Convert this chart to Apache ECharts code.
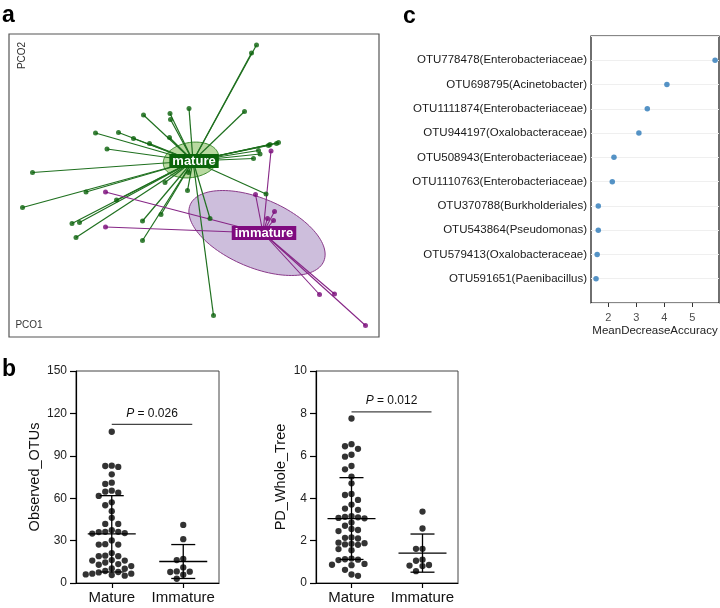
<!DOCTYPE html>
<html><head><meta charset="utf-8">
<script src="https://cdn.jsdelivr.net/npm/echarts@6/dist/echarts.min.js"></script>
<style>html,body{margin:0;padding:0;background:#fff}#c{width:720px;height:608px}</style>
</head><body><div id="c"></div>
<script>
// ---------- Panel a : PCoA (PCO1, PCO2) ----------
const matureCentroid = [-0.032, -0.004];
const immatureCentroid = [0.108, -0.148];
const maturePCO1 = [-0.227,-0.181,-0.151,-0.119,-0.204,-0.131,-0.078,-0.077,-0.079,-0.040,0.095,0.085,0.071,0.139,0.135,0.122,0.119,0.099,0.102,0.089,-0.353,-0.373,-0.246,-0.185,-0.088,-0.043,-0.274,-0.259,-0.266,-0.133,-0.096,-0.133,0.114,0.002,0.009,-0.041];
const maturePCO2 = [0.052,0.053,0.041,0.031,0.020,0.088,0.091,0.079,0.043,0.101,0.228,0.212,0.095,0.033,0.031,0.029,0.027,0.017,0.010,0.001,-0.027,-0.097,-0.066,-0.082,-0.047,-0.063,-0.129,-0.127,-0.157,-0.124,-0.111,-0.163,-0.070,-0.119,-0.313,-0.027];
const immaturePCO1 = [0.124,-0.207,-0.207,0.093,0.131,0.117,0.129,0.221,0.251,0.313];
const immaturePCO2 = [0.016,-0.066,-0.136,-0.071,-0.105,-0.119,-0.123,-0.271,-0.270,-0.333];
// ellipse: [centre PCO1, centre PCO2, semi-major, semi-minor, angle deg]
const matureEllipse = [-0.036, -0.002, 0.056, 0.035, 10];
const immatureEllipse = [0.096, -0.148, 0.145, 0.069, -22.9];
const groupNames = ['mature', 'immature'];

// ---------- Panel b ----------
const groups = ['Mature', 'Immature'];
const observedMature = [107.0,83.0,82.8,82.1,76.9,71.0,70.1,65.3,64.6,63.9,61.6,57.1,55.0,50.8,46.1,41.8,41.8,37.4,36.0,35.3,35.0,36.2,36.2,30.1,27.2,27.5,27.2,21.2,19.0,19.0,19.3,14.5,13.4,15.9,16.2,15.9,12.9,12.0,10.1,10.3,8.5,7.8,6.6,6.1,5.6,5.2,6.6,7.5];
const observedImmature = [41.1,31.0,16.2,17.1,11.0,8.2,8.0,7.8,5.9,3.0];
const observedMean = [34.8, 15.2];
const observedSD = [27.0, 12.0];
const observedTicks = [0, 30, 60, 90, 120, 150];
const pdMature = [7.76,6.55,6.45,6.33,6.05,5.96,5.52,5.36,5.02,4.70,4.20,4.15,3.92,3.70,3.51,3.45,3.15,3.10,3.07,3.05,3.12,2.85,2.70,2.50,2.45,2.55,2.13,2.15,2.10,1.90,1.85,1.82,1.88,1.80,1.60,1.55,1.10,1.12,1.08,1.15,0.86,0.90,0.84,0.62,0.40,0.34];
const pdImmature = [3.37,2.57,1.61,1.61,1.10,1.05,0.85,0.82,0.80,0.56];
const pdMean = [3.04, 1.41];
const pdSD = [1.93, 0.90];
const pdTicks = [0, 2, 4, 6, 8, 10];
const pValues = ['0.026', '0.012'];
const bracketLevels = [112.2, 8.07];

// ---------- Panel c ----------
const otuNames = ['OTU778478(Enterobacteriaceae)','OTU698795(Acinetobacter)','OTU1111874(Enterobacteriaceae)','OTU944197(Oxalobacteraceae)','OTU508943(Enterobacteriaceae)','OTU1110763(Enterobacteriaceae)','OTU370788(Burkholderiales)','OTU543864(Pseudomonas)','OTU579413(Oxalobacteraceae)','OTU591651(Paenibacillus)'];
const meanDecreaseAccuracy = [5.81, 4.09, 3.39, 3.09, 2.20, 2.14, 1.64, 1.64, 1.60, 1.56];
const accTicks = [2, 3, 4, 5];

// ---------- layout ----------
const FONT = 'Liberation Sans, Arial, sans-serif';
const gA = {left: 9, top: 34, width: 370, height: 303};
const gC = {left: 591, top: 36, width: 128, height: 267};
const gB1 = {left: 76, top: 371, width: 143, height: 212};
const gB2 = {left: 316, top: 371, width: 142, height: 212};
const GREEN = '#0a620a', GREEN_LINE = '#1f701f', PURPLE = '#780878', PURPLE_LINE = '#862686';
const DOT = 6.3;

function swarm(values, gx, pxPerX, pxPerY) {
  const order = values.map((v, i) => i).sort((a, b) => values[b] - values[a]);
  const cols = {};
  const out = new Array(values.length);
  order.forEach(i => {
    const ypx = values[i] * pxPerY;
    for (let k = 0; k < 60; k++) {
      const c = k === 0 ? 0 : (k % 2 ? -Math.ceil(k / 2) : k / 2);
      const list = cols[c] || (cols[c] = []);
      if (list.every(y => Math.abs(y - ypx) >= DOT)) {
        list.push(ypx);
        out[i] = [gx + c * 6.5 / pxPerX, values[i]];
        break;
      }
    }
  });
  return out;
}

function ellipseItem(fill, stroke) {
  return function (params, api) {
    const cx = api.value(0), cy = api.value(1), a = api.value(2), b = api.value(3);
    const ang = api.value(4) * Math.PI / 180;
    const pts = [];
    for (let t = 0; t < 120; t++) {
      const th = t / 120 * Math.PI * 2;
      const lx = a * Math.cos(th), ly = b * Math.sin(th);
      pts.push(api.coord([cx + lx * Math.cos(ang) - ly * Math.sin(ang), cy + lx * Math.sin(ang) + ly * Math.cos(ang)]));
    }
    return {type: 'polygon', shape: {points: pts}, style: {fill: fill, stroke: stroke, lineWidth: 1}};
  };
}

function centroidLabel(bg) {
  return function (params, api) {
    const p = api.coord([api.value(0), api.value(1)]);
    return {type: 'text', x: p[0] + 1, y: p[1], z2: 10, style: {text: groupNames[api.value(2)], fill: '#fff', backgroundColor: bg, padding: [1, 3, 0, 3], font: 'bold 13px ' + FONT, align: 'center', verticalAlign: 'middle'}};
  };
}

function summaryItem(params, api) {
  const x = api.value(0), m = api.value(1), s = api.value(2);
  const pm = api.coord([x, m]), pt = api.coord([x, m + s]), pb = api.coord([x, m - s]);
  const st = {stroke: '#000', lineWidth: 1.3};
  return {type: 'group', children: [
    {type: 'line', shape: {x1: pm[0] - 24, y1: pm[1], x2: pm[0] + 24, y2: pm[1]}, style: st},
    {type: 'line', shape: {x1: pt[0] - 12, y1: pt[1], x2: pt[0] + 12, y2: pt[1]}, style: st},
    {type: 'line', shape: {x1: pb[0] - 12, y1: pb[1], x2: pb[0] + 12, y2: pb[1]}, style: st},
    {type: 'line', shape: {x1: pt[0], y1: pt[1], x2: pb[0], y2: pb[1]}, style: st}
  ]};
}

function bracketItem(params, api) {
  const p1 = api.coord([api.value(0), api.value(2)]);
  const p2 = api.coord([api.value(1), api.value(2)]);
  const x2 = p2[0] + 9;
  return {type: 'group', children: [
    {type: 'line', shape: {x1: p1[0], y1: p1[1], x2: x2, y2: p1[1]}, style: {stroke: '#444', lineWidth: 1.2}},
    {type: 'text', x: (p1[0] + x2) / 2, y: p1[1] - 11, style: {
      text: '{i|P} = ' + pValues[api.value(3)], align: 'center', verticalAlign: 'middle',
      font: '12px ' + FONT, fill: '#111',
      rich: {i: {fontStyle: 'italic', fontSize: 12, fontFamily: FONT, fill: '#111'}}
    }}
  ]};
}

const pxX1 = gB1.width / 2, pxY1 = gB1.height / 150;
const pxX2 = gB2.width / 2, pxY2 = gB2.height / 10;

const yAxisB = (grid, max, interval, name, gap) => ({
  gridIndex: grid, type: 'value', min: 0, max: max, interval: interval,
  axisLine: {show: true, lineStyle: {color: '#000', width: 1.2}},
  axisTick: {show: true, length: 6, lineStyle: {color: '#000', width: 1.2}},
  axisLabel: {fontSize: 12, color: '#222', margin: 9, fontFamily: FONT},
  splitLine: {show: false},
  name: name, nameLocation: 'middle', nameGap: gap,
  nameTextStyle: {fontSize: 14.5, color: '#111', fontFamily: FONT}
});
const xAxisB = (grid) => ({
  gridIndex: grid, type: 'value', min: 0.5, max: 2.5,
  axisLine: {show: true, onZero: false, lineStyle: {color: '#000', width: 1.2}},
  axisTick: {show: true, length: 5, customValues: [1, 2], lineStyle: {color: '#000', width: 1.2}},
  axisLabel: {customValues: [1, 2], formatter: v => groups[Math.round(v) - 1] || '', fontSize: 15, color: '#111', margin: 7, fontFamily: FONT},
  splitLine: {show: false}
});

const chart = echarts.init(document.getElementById('c'), null, {renderer: 'canvas'});
chart.setOption({
  animation: false,
  backgroundColor: '#fff',
  textStyle: {fontFamily: FONT},
  grid: [
    Object.assign({show: true, borderColor: '#555', borderWidth: 1.2, backgroundColor: '#fff'}, gA),
    Object.assign({show: true, borderColor: '#111', borderWidth: 1.2, backgroundColor: '#fff'}, gC),
    Object.assign({show: true, borderColor: '#444', borderWidth: 1}, gB1),
    Object.assign({show: true, borderColor: '#444', borderWidth: 1}, gB2)
  ],
  xAxis: [
    {gridIndex: 0, type: 'value', min: -0.40, max: 0.34, show: false},
    {gridIndex: 1, type: 'value', min: 1.38, max: 5.95,
      axisLine: {show: false}, splitLine: {show: false},
      axisTick: {show: true, customValues: accTicks, length: 4, lineStyle: {color: '#333'}},
      axisLabel: {customValues: accTicks, fontSize: 11, color: '#4d4d4d', margin: 9, fontFamily: FONT},
      name: 'MeanDecreaseAccuracy', nameLocation: 'middle', nameGap: 22,
      nameTextStyle: {fontSize: 11.5, color: '#222', fontFamily: FONT}},
    xAxisB(2), xAxisB(3)
  ],
  yAxis: [
    {gridIndex: 0, type: 'value', min: -0.356, max: 0.25, show: false},
    {gridIndex: 1, type: 'category', data: [''].concat(otuNames, ['']), boundaryGap: false, inverse: true,
      axisLine: {show: false}, axisTick: {show: false},
      axisLabel: {fontSize: 11.5, color: '#1a1a1a', margin: 4, fontFamily: FONT, interval: 0},
      splitLine: {show: true, lineStyle: {color: '#efefef', width: 1}}},
    yAxisB(2, 150, 30, 'Observed_OTUs', 34),
    yAxisB(3, 10, 2, 'PD_Whole_Tree', 28)
  ],
  graphic: [
    {type: 'text', x: 2, y: 15.5, style: {text: 'a', font: 'bold 23px ' + FONT, fill: '#000', verticalAlign: 'middle'}},
    {type: 'text', x: 2, y: 369.5, style: {text: 'b', font: 'bold 23px ' + FONT, fill: '#000', verticalAlign: 'middle'}},
    {type: 'text', x: 403, y: 16.5, style: {text: 'c', font: 'bold 23px ' + FONT, fill: '#000', verticalAlign: 'middle'}},
    {type: 'text', x: 22.7, y: 55.5, rotation: Math.PI / 2, z: 100, style: {text: 'PCO2', font: '10px ' + FONT, fill: '#333', align: 'center', verticalAlign: 'middle'}},
    {type: 'text', x: 29, y: 325, z: 100, style: {text: 'PCO1', font: '10px ' + FONT, fill: '#333', align: 'center', verticalAlign: 'middle'}}
  ],
  series: [
    // panel a
    {type: 'custom', xAxisIndex: 0, yAxisIndex: 0, renderItem: ellipseItem('rgba(113,179,65,0.5)', '#3a8a2a'), data: [matureEllipse], z: 1},
    {type: 'custom', xAxisIndex: 0, yAxisIndex: 0, renderItem: ellipseItem('rgba(155,125,185,0.5)', '#8a3a8a'), data: [immatureEllipse], z: 1},
    {type: 'lines', coordinateSystem: 'cartesian2d', xAxisIndex: 0, yAxisIndex: 0, z: 2,
      lineStyle: {color: GREEN_LINE, width: 1.2, opacity: 1},
      data: maturePCO1.map((x, i) => ({coords: [matureCentroid, [x, maturePCO2[i]]]}))},
    {type: 'lines', coordinateSystem: 'cartesian2d', xAxisIndex: 0, yAxisIndex: 0, z: 2,
      lineStyle: {color: PURPLE_LINE, width: 1.1, opacity: 1},
      data: immaturePCO1.map((x, i) => ({coords: [immatureCentroid, [x, immaturePCO2[i]]]}))},
    {type: 'scatter', xAxisIndex: 0, yAxisIndex: 0, symbolSize: 5, z: 3, itemStyle: {color: GREEN},
      data: maturePCO1.map((x, i) => [x, maturePCO2[i]])},
    {type: 'scatter', xAxisIndex: 0, yAxisIndex: 0, symbolSize: 5, z: 3, itemStyle: {color: PURPLE},
      data: immaturePCO1.map((x, i) => [x, immaturePCO2[i]])},
    {type: 'custom', xAxisIndex: 0, yAxisIndex: 0, z: 5, renderItem: centroidLabel('#0a640a'), data: [[matureCentroid[0], matureCentroid[1], 0]]},
    {type: 'custom', xAxisIndex: 0, yAxisIndex: 0, z: 5, renderItem: centroidLabel('#7f0a7f'), data: [[immatureCentroid[0], immatureCentroid[1], 1]]},
    // panel c
    {type: 'scatter', xAxisIndex: 1, yAxisIndex: 1, symbolSize: 5.5, itemStyle: {color: '#2a78b8'},
      data: otuNames.map((n, i) => [meanDecreaseAccuracy[i], n])},
    // panel b left
    {type: 'scatter', xAxisIndex: 2, yAxisIndex: 2, symbolSize: DOT, itemStyle: {color: '#000'},
      data: swarm(observedMature, 1, pxX1, pxY1).concat(swarm(observedImmature, 2, pxX1, pxY1))},
    {type: 'custom', xAxisIndex: 2, yAxisIndex: 2, z: 4, renderItem: summaryItem,
      data: [[1, observedMean[0], observedSD[0]], [2, observedMean[1], observedSD[1]]]},
    {type: 'custom', xAxisIndex: 2, yAxisIndex: 2, renderItem: bracketItem, data: [[1, 2, bracketLevels[0], 0]]},
    // panel b right
    {type: 'scatter', xAxisIndex: 3, yAxisIndex: 3, symbolSize: DOT, itemStyle: {color: '#000'},
      data: swarm(pdMature, 1, pxX2, pxY2).concat(swarm(pdImmature, 2, pxX2, pxY2))},
    {type: 'custom', xAxisIndex: 3, yAxisIndex: 3, z: 4, renderItem: summaryItem,
      data: [[1, pdMean[0], pdSD[0]], [2, pdMean[1], pdSD[1]]]},
    {type: 'custom', xAxisIndex: 3, yAxisIndex: 3, renderItem: bracketItem, data: [[1, 2, bracketLevels[1], 1]]}
  ]
});
</script></body></html>
